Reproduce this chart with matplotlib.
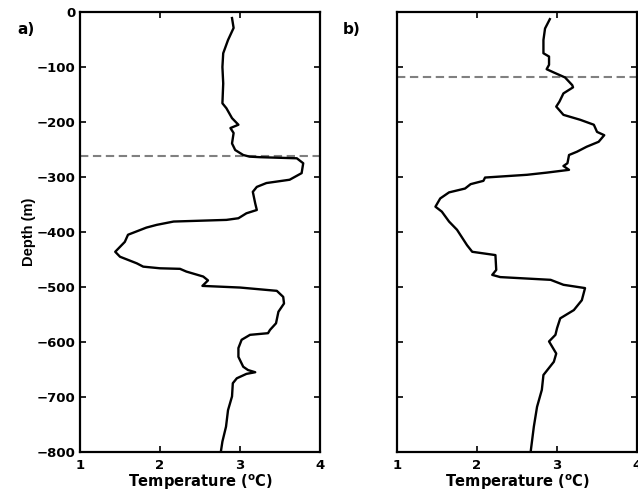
import numpy as np
import matplotlib
matplotlib.use('Agg')
import matplotlib.pyplot as plt

plt.rcParams['font.family'] = 'DejaVu Sans'
plt.rcParams['font.weight'] = 'bold'
plt.rcParams['mathtext.fontset'] = 'custom'
plt.rcParams['mathtext.bf'] = 'DejaVu Sans:bold'
plt.rcParams['mathtext.rm'] = 'DejaVu Sans:bold'

# profile a)
temp_a = [2.90, 2.92, 2.85, 2.79, 2.78, 2.79, 2.78, 2.83, 2.90, 2.98, 2.88, 2.92, 2.90, 2.94,
          3.04, 3.12, 3.25, 3.71, 3.79, 3.77, 3.62, 3.33, 3.21, 3.16, 3.19, 3.21, 3.08, 2.98,
          2.83, 2.17, 1.96, 1.83, 1.60, 1.56, 1.44, 1.50, 1.71, 1.79, 2.00, 2.25, 2.33, 2.54,
          2.60, 2.53, 3.00, 3.46, 3.54, 3.55, 3.48, 3.45, 3.375, 3.35, 3.125, 3.02, 2.98, 2.98,
          3.04, 3.10, 3.19, 3.08, 2.96, 2.91, 2.90, 2.85, 2.825, 2.78, 2.76]
depth_a = [-11, -29, -51, -75, -100, -130, -166, -175, -193, -205, -211, -220, -239, -251,
           -260, -263, -264, -266, -275, -293, -305, -311, -318, -327, -348, -360, -366, -375,
           -378, -381, -387, -392, -405, -418, -436, -445, -457, -463, -466, -467, -472, -481,
           -488, -498, -501, -507, -518, -530, -545, -566, -578, -584, -587, -596, -611, -627,
           -645, -651, -655, -658, -666, -675, -699, -724, -754, -781, -800]

# profile b)
temp_b = [2.91, 2.85, 2.83, 2.83, 2.90, 2.90, 2.87, 2.96, 3.10, 3.19, 3.20, 3.08, 3.03, 2.99,
          3.08, 3.29, 3.46, 3.50, 3.59, 3.52, 3.37, 3.25, 3.15, 3.13, 3.08, 3.15, 2.875, 2.625,
          2.10, 2.08, 1.92, 1.85, 1.65, 1.54, 1.48, 1.56, 1.65, 1.75, 1.875, 1.94, 2.23, 2.24,
          2.19, 2.29, 2.92, 3.08, 3.35, 3.31, 3.21, 3.04, 3.00, 2.98, 2.90, 2.99, 2.96, 2.83,
          2.81, 2.75, 2.71, 2.67]
depth_b = [-13, -30, -51, -75, -81, -96, -104, -110, -119, -133, -137, -148, -163, -172,
           -187, -196, -205, -218, -224, -236, -245, -254, -260, -275, -280, -287, -292, -296,
           -301, -307, -313, -321, -328, -339, -354, -363, -381, -396, -424, -436, -442, -469,
           -478, -482, -487, -496, -502, -524, -542, -557, -575, -587, -599, -621, -636, -660,
           -687, -718, -754, -800]

mld = [-262, -119]
labels = ['a)', 'b)']
yticks = list(range(-800, 1, 100))

fig = plt.figure(figsize=(6.38, 5.04), dpi=100)
ax1 = fig.add_axes([0.1254, 0.1032, 0.3762, 0.873])
ax2 = fig.add_axes([0.6223, 0.1032, 0.3762, 0.873])

for i, (ax, t, d) in enumerate([(ax1, temp_a, depth_a), (ax2, temp_b, depth_b)]):
    ax.axhline(mld[i], color='#808080', lw=1.5, ls=(0, (4, 2.2)), zorder=1)
    ax.plot(t, d, color='k', lw=1.7, zorder=2)
    ax.set_xlim(1, 4)
    ax.set_ylim(-800, 0)
    ax.set_xticks([1, 2, 3, 4])
    ax.set_yticks(yticks)
    ax.tick_params(direction='in', top=True, right=True, width=1.2, length=4,
                   labelsize=9.5)
    ax.tick_params(axis='x', pad=5)
    ax.tick_params(axis='y', pad=3)
    for s in ax.spines.values():
        s.set_linewidth(1.6)
    ax.set_xlabel('Temperature ($^\\mathbf{o}$C)', fontsize=10.5, fontweight='bold', labelpad=0)
    ax.set_yticklabels([str(v).replace('-', '\u2212') for v in yticks])

ax2.set_yticklabels([])
ax1.set_ylabel('Depth (m)', fontsize=10.5, fontweight='bold', labelpad=1,
               family='Liberation Sans')

fig.text(0.027, 0.932, labels[0], fontsize=11, fontweight='bold')
fig.text(0.538, 0.932, labels[1], fontsize=11, fontweight='bold')

fig.savefig('out.png', dpi=100)
